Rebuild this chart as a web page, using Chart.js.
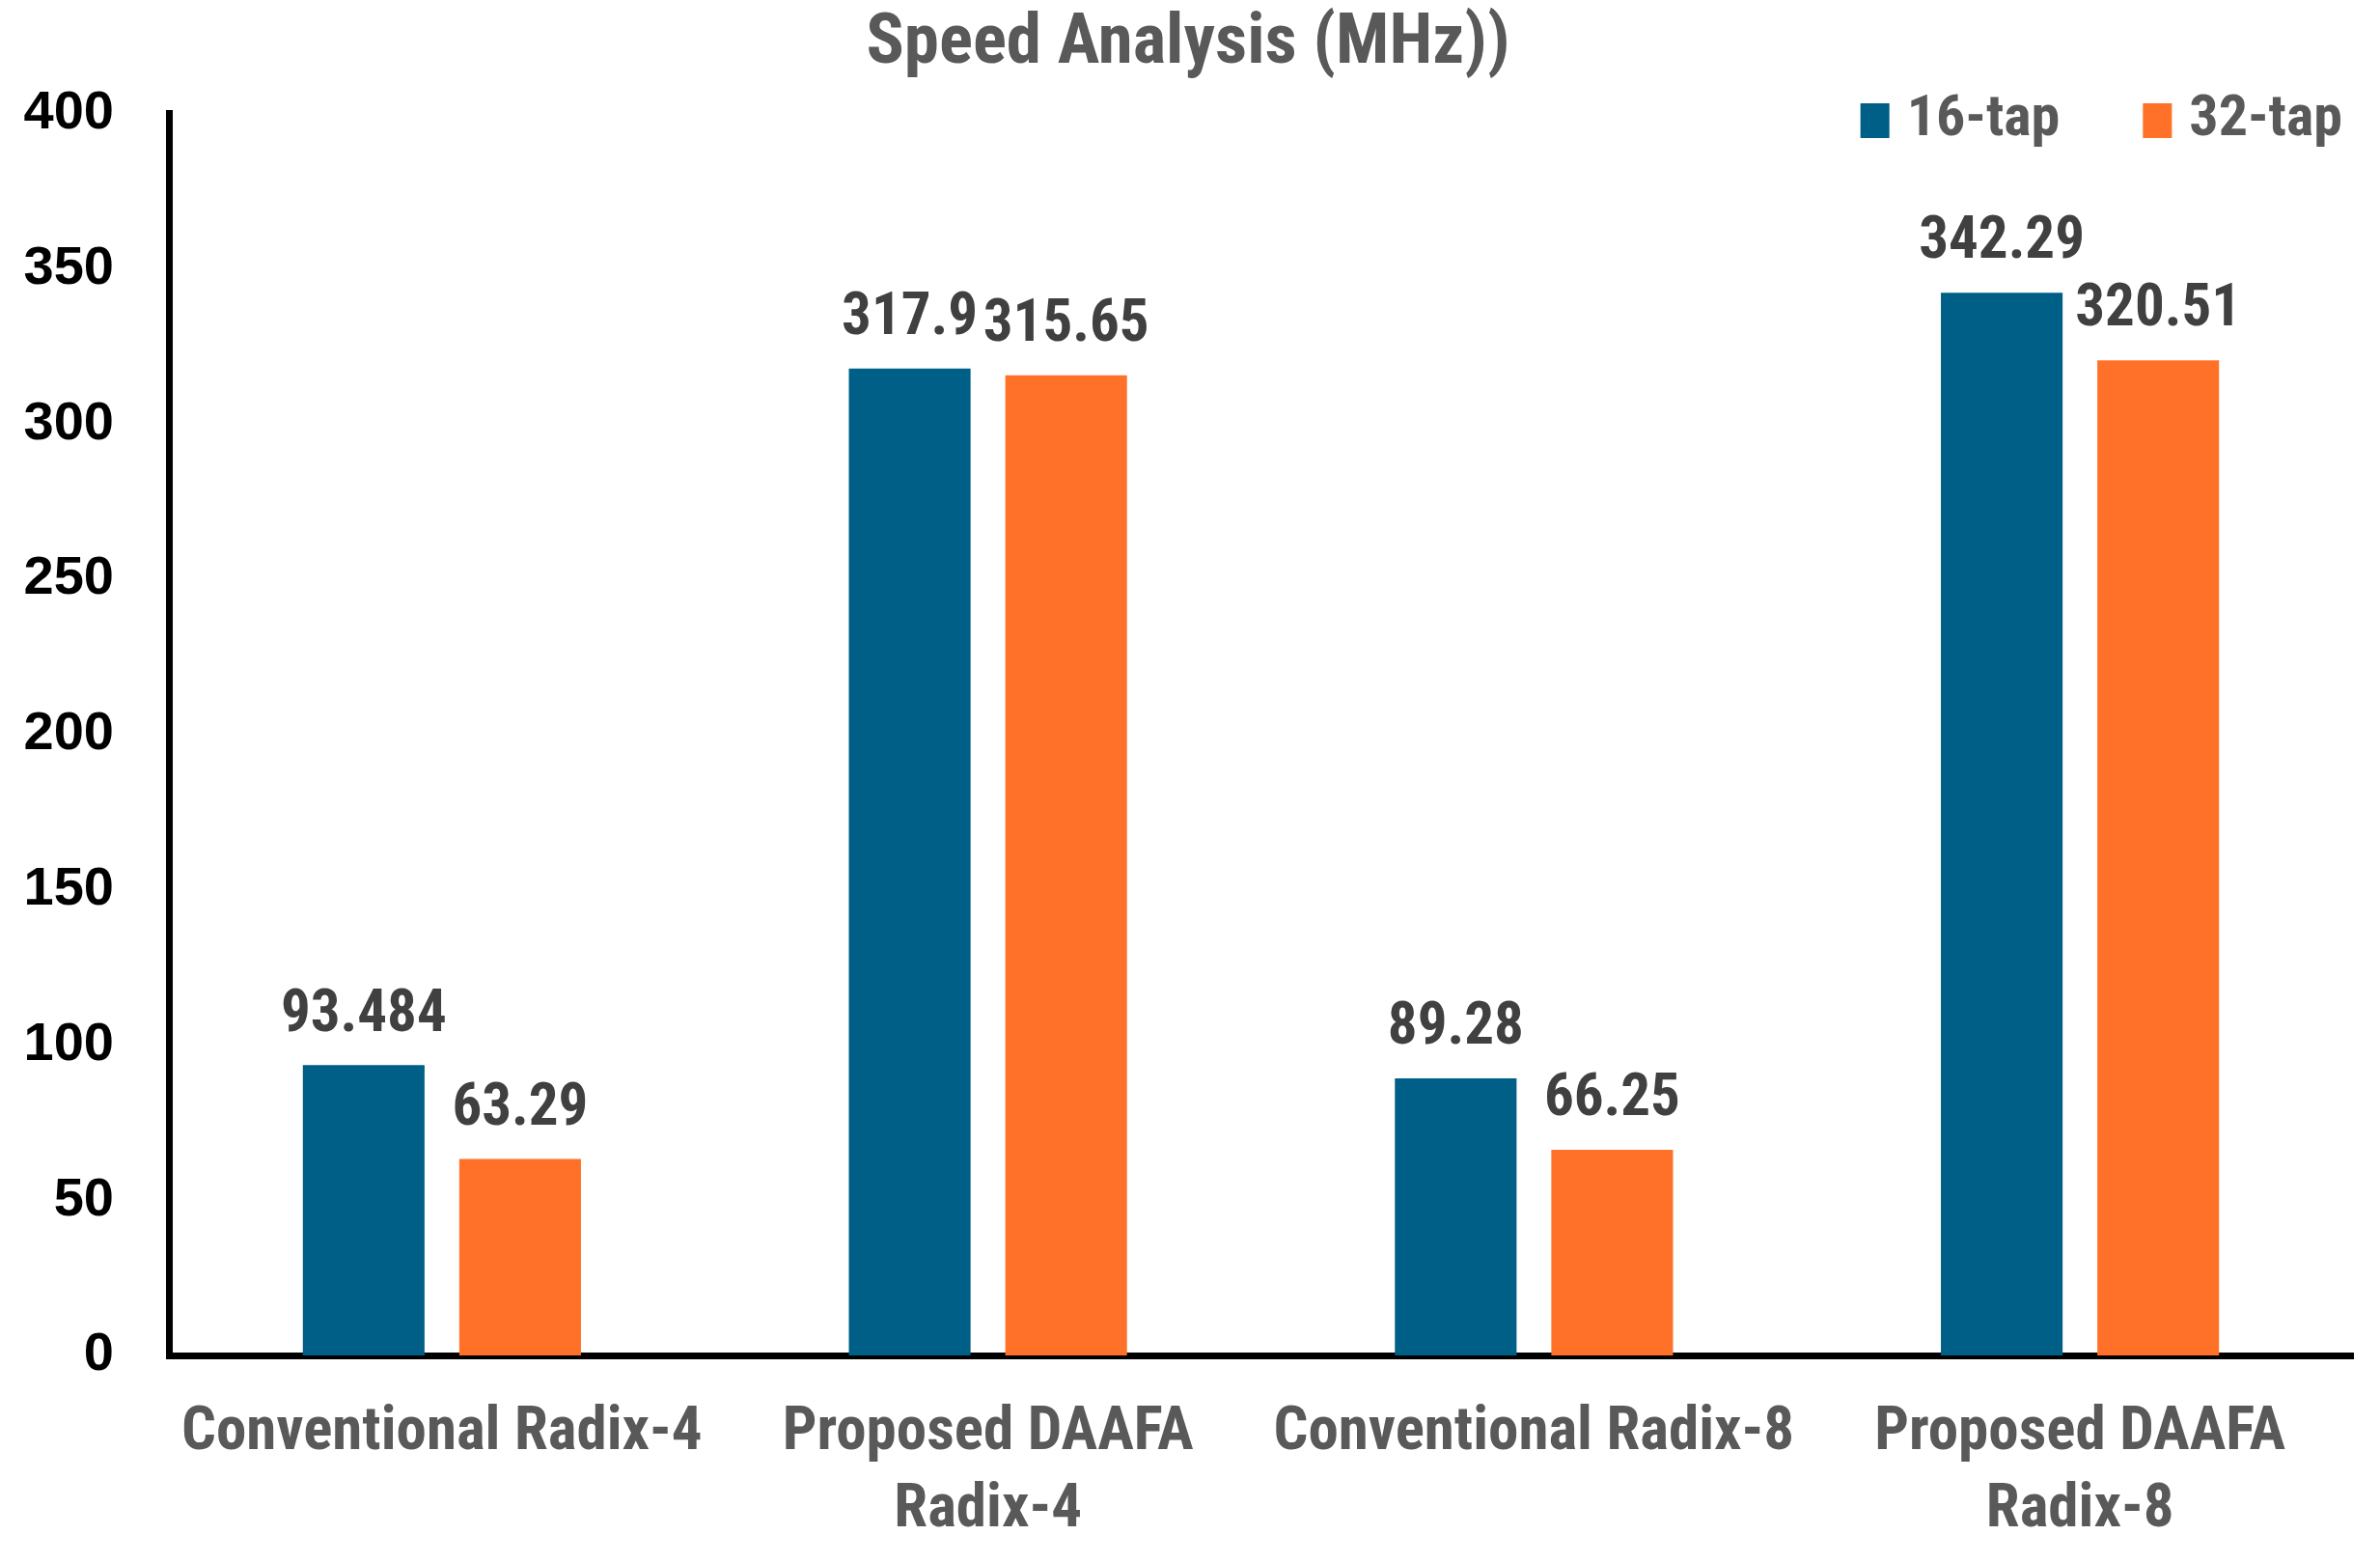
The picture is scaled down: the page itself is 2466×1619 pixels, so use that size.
<!DOCTYPE html>
<html>
<head>
<meta charset="utf-8">
<title>Speed Analysis (MHz))</title>
<script src="https://cdn.jsdelivr.net/npm/chart.js@4.4.1/dist/chart.umd.min.js"></script>
<style>
  html, body { margin: 0; padding: 0; background: #fff; }
  #wrap { width: 2466px; height: 1619px; position: relative; }
</style>
</head>
<body>
<div id="wrap"><canvas id="speed-chart"></canvas></div>
<script>
(function () {
  'use strict';

  var categories = [
    'Conventional Radix-4',
    ['Proposed DAAFA', 'Radix-4'],
    'Conventional Radix-8',
    ['Proposed DAAFA', 'Radix-8'],
  ];
  var seriesNames = ['16-tap', '32-tap'];
  var tap16 = [93.484, 317.9, 89.28, 342.29];
  var tap32 = [63.29, 315.65, 66.25, 320.51];
  var yTicks = [0, 50, 100, 150, 200, 250, 300, 350, 400];

  var narrow = "'Roboto Condensed', 'Open Sans Condensed', 'DejaVu Sans Condensed', sans-serif";
  var blue = '#005F86';
  var orange = '#FF7128';

  // подписи значений над столбцами
  var valueLabels = {
    id: 'valueLabels',
    afterDatasetsDraw: function (chart) {
      var ctx = chart.ctx;
      ctx.save();
      ctx.font = 'bold 61px ' + narrow;
      ctx.fillStyle = '#404040';
      ctx.textAlign = 'center';
      ctx.textBaseline = 'middle';
      chart.data.datasets.forEach(function (ds, i) {
        chart.getDatasetMeta(i).data.forEach(function (bar, j) {
          ctx.fillText(String(ds.data[j]), bar.x, bar.y - 51);
        });
      });
      ctx.restore();
    },
  };

  // легенда в правом верхнем углу области графика
  var cornerLegend = {
    id: 'cornerLegend',
    afterDraw: function (chart) {
      var ctx = chart.ctx;
      var area = chart.chartArea;
      var x = area.right - 11;
      var cy = 125;
      ctx.save();
      ctx.font = 'bold 60px ' + narrow;
      ctx.textBaseline = 'middle';
      ctx.textAlign = 'right';
      for (var i = chart.data.datasets.length - 1; i >= 0; i--) {
        var ds = chart.data.datasets[i];
        var w = ctx.measureText(ds.label).width;
        ctx.fillStyle = '#595959';
        ctx.fillText(ds.label, x, cy);
        x -= w + 18;
        ctx.fillStyle = ds.backgroundColor;
        ctx.fillRect(x - 30, cy - 18, 30, 36);
        x -= 30 + 86;
      }
      ctx.restore();
    },
  };

  new Chart(document.getElementById('speed-chart'), {
    type: 'bar',
    data: {
      labels: categories,
      datasets: [
        { label: seriesNames[0], data: tap16, backgroundColor: blue },
        { label: seriesNames[1], data: tap32, backgroundColor: orange },
      ],
    },
    options: {
      responsive: true,
      maintainAspectRatio: false,
      animation: false,
      categoryPercentage: 0.573,
      barPercentage: 0.778,
      layout: { padding: { left: 24, right: 28, top: 0, bottom: 0 } },
      plugins: {
        legend: { display: false },
        tooltip: { enabled: false },
        title: {
          display: true,
          text: 'Speed Analysis (MHz))',
          color: '#595959',
          font: { family: narrow, size: 73, weight: 'bold', lineHeight: 1.2 },
          padding: { top: 3, bottom: 27 },
        },
      },
      scales: {
        x: {
          grid: { display: false, drawTicks: false },
          border: { display: true, color: '#000', width: 7 },
          ticks: {
            color: '#595959',
            font: { family: narrow, size: 63, weight: 'bold', lineHeight: 1.26 },
            padding: 42,
            maxRotation: 0,
            autoSkip: false,
          },
          afterFit: function (s) { s.height = 215; },
        },
        y: {
          min: 0,
          max: 400,
          grid: { display: false, drawTicks: false },
          border: { display: true, color: '#000', width: 7 },
          afterBuildTicks: function (s) {
            s.ticks = yTicks.map(function (v) { return { value: v }; });
          },
          ticks: {
            color: '#000',
            font: { family: "'Liberation Sans', Arial, sans-serif", size: 56, weight: 'bold' },
            padding: 57,
          },
          afterFit: function (s) { s.width = 151; },
        },
      },
    },
    plugins: [valueLabels, cornerLegend],
  });
})();
</script>
</body>
</html>
